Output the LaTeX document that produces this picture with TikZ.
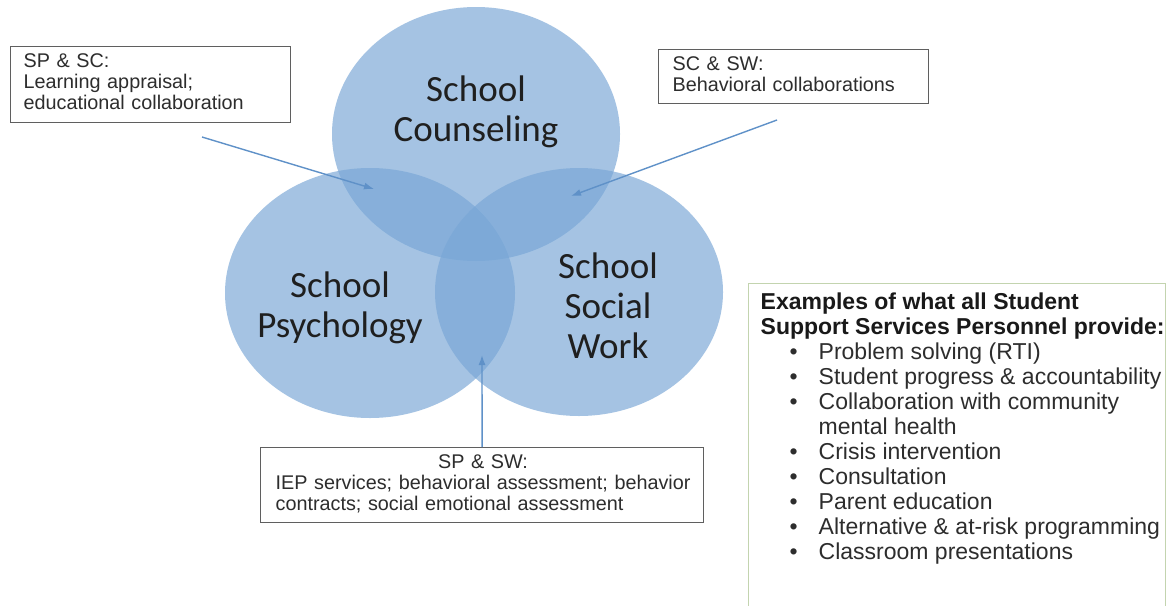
\documentclass[tikz,border=0pt]{standalone}
\usepackage{fontspec}
\setmainfont{Liberation Sans}
\newfontfamily\calib{Carlito}
\usetikzlibrary{arrows.meta}
\definecolor{circfill}{RGB}{120,166,214}
\definecolor{arrowc}{RGB}{95,145,200}
\definecolor{boxline}{RGB}{95,95,95}
\definecolor{greenline}{RGB}{195,212,175}
\definecolor{txt}{RGB}{45,45,45}
\begin{document}
\begin{tikzpicture}[x=1pt,y=-1pt,
  venn/.style={fill=circfill, fill opacity=0.667, draw=none},
  vlabel/.style={text=black!88, font=\calib\fontsize{37}{40}\selectfont, inner sep=0pt, anchor=base},
  notebox/.style={draw=boxline, line width=1.2pt, fill=white, text=txt,
    font=\fontsize{19.8}{21}\selectfont, anchor=north west, align=left, inner ysep=6.5pt},
  pointer/.style={draw=arrowc, line width=1.4pt, -{Latex[length=10pt,width=7pt]}}
]
\useasboundingbox (0,0) rectangle (1169,605);
\fill[white] (0,0) rectangle (1169,605);

% circles
\path[venn] (476,134) ellipse [x radius=144pt, y radius=127pt];
\path[venn] (370,293) ellipse [x radius=145pt, y radius=125pt];
\path[venn] (579,292) ellipse [x radius=144pt, y radius=124pt];

% circle labels
\node[vlabel] (sc) at (476,101) {\begin{tabular}[t]{@{}c@{}}School\\Counseling\end{tabular}};
\node[vlabel] (sp) at (340,297) {\begin{tabular}[t]{@{}c@{}}School\\Psychology\end{tabular}};
\node[vlabel] (sw) at (608,278) {\begin{tabular}[t]{@{}c@{}}School\\Social\\Work\end{tabular}};

% note boxes
\node[notebox, text width=254pt, inner xsep=13pt] (b1) at (10,46)
  {\begin{tabular}[t]{@{}l@{}}SP \& SC:\\Learning appraisal;\\educational collaboration\end{tabular}};
\node[notebox, text width=242pt, inner xsep=14pt, inner ysep=6pt] (b2) at (658,49)
  {\begin{tabular}[t]{@{}l@{}}SC \& SW:\\Behavioral collaborations\end{tabular}};
\node[notebox, text width=413pt, inner xsep=15pt, inner ysep=6pt] (b3) at (260,447)
  {\begin{tabular}[t]{@{}l@{}}\multicolumn{1}{@{}c@{}}{SP \& SW:}\\IEP services; behavioral assessment; behavior\\contracts; social emotional assessment\end{tabular}};

% examples box
\node[draw=greenline, line width=1.3pt, anchor=north west, inner sep=0pt, text=txt] (rb) at (748,283)
  {\begin{minipage}[t][330pt][t]{417pt}\fontsize{23}{25}\selectfont\vspace*{8.5pt}\hspace*{12pt}%
   \begin{tabular}[t]{@{}l@{\hspace{21pt}}l@{}}
   \multicolumn{2}{@{}l@{}}{\color{black!90}\textbf{Examples of what all Student}}\\
   \multicolumn{2}{@{}l@{}}{\color{black!90}\textbf{Support Services Personnel provide:}}\\
   \hspace*{29pt}\textbullet & Problem solving (RTI)\\
   \hspace*{29pt}\textbullet & Student progress \& accountability\\
   \hspace*{29pt}\textbullet & Collaboration with community\\
    & mental health\\
   \hspace*{29pt}\textbullet & Crisis intervention\\
   \hspace*{29pt}\textbullet & Consultation\\
   \hspace*{29pt}\textbullet & Parent education\\
   \hspace*{29pt}\textbullet & Alternative \& at-risk programming\\
   \hspace*{29pt}\textbullet & Classroom presentations
   \end{tabular}\end{minipage}};

% arrows
\coordinate (a1s) at (202,137);
\coordinate (a1e) at (374,189);
\coordinate (a2s) at (777,120);
\coordinate (a2e) at (571,196);
\coordinate (a3e) at (482,355);
\draw[pointer] (a1s) -- (a1e);
\draw[pointer] (a2s) -- (a2e);
\draw[pointer] (b3.north) -- (a3e);
\end{tikzpicture}
\end{document}
